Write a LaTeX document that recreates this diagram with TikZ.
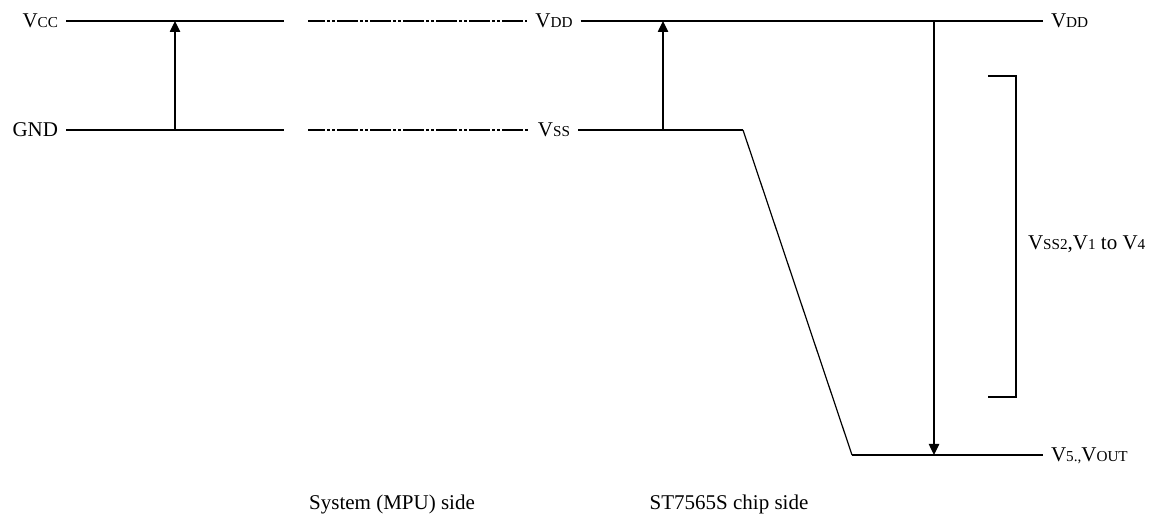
\documentclass[tikz,border=0pt]{standalone}
\usepackage{fontspec}
\setmainfont{Liberation Serif}
\usepackage{tikz}
\usetikzlibrary{arrows.meta, positioning}
\newcommand{\lo}[1]{{\fontsize{7.6}{8}\selectfont #1}}
\tikzset{
  lbl/.style={inner sep=0pt, outer sep=4pt, text height=7pt, text depth=0pt, font=\fontsize{10.5}{12}\selectfont},
  rail/.style={line width=0.9pt},
  dashrail/.style={line width=0.9pt, dash pattern=on 10.5pt off 1pt on 1.5pt off 1pt on 1.5pt off 1pt, dash phase=2pt},
  lift/.style={line width=0.6pt, -{Triangle[length=5.5pt, width=5.2pt]}},
}

\begin{document}
\begin{tikzpicture}[x=0.5pt, y=-0.5pt]
        \useasboundingbox (0,0) rectangle (1152,522);
        % Nodes
        \node[lbl, anchor=east] (vcc) at (66,21) {V\lo{CC}};
        \node[lbl, anchor=east] (gnd) at (66,130) {GND};
        \node[lbl] (vddmid) at (554,21) {V\lo{DD}};
        \node[lbl] (vssmid) at (554,130) {V\lo{SS}};
        \node[lbl, anchor=west] (vddend) at (1043,21) {V\lo{DD}};
        \node[lbl, anchor=west] (voutend) at (1043,455) {V\lo{5.,}V\lo{OUT}};
        \node[lbl, anchor=west] (vlcd) at (1020,243) {V\lo{SS2},V\lo{1} to V\lo{4}};
        \node[lbl] (mpu) at (392,503) {System (MPU) side};
        \node[lbl] (chip) at (729,503) {ST7565S chip side};

        \coordinate (vccR) at (284,21);
        \coordinate (gndR) at (284,130);
        \coordinate (vddL) at (308,21);
        \coordinate (vssL) at (308,130);
        \coordinate (knee) at (743,130);
        \coordinate (foot) at (852,455);
        \coordinate (mputop) at (175,21);
        \coordinate (mpubot) at (175,130);
        \coordinate (chiptop) at (663,21);
        \coordinate (chipbot) at (663,130);
        \coordinate (droptop) at (934,21);
        \coordinate (dropbot) at (934,455);
        \coordinate (brtop) at (988,76);
        \coordinate (brbot) at (988,397);

        % Rails
        \draw[rail] (vcc.east) -- (vccR);
        \draw[rail] (gnd.east) -- (gndR);
        \draw[dashrail] (vddL) -- (vddmid.west);
        \draw[dashrail] (vssL) -- (vssmid.west);
        \draw[rail] (vddmid.east) -- (vddend.west);
        \draw[rail] (vssmid.east) -- (knee);
        \draw[line width=0.6pt] (knee) -- (foot);
        \draw[rail] (foot) -- (voutend.west);

        % Potential arrows
        \draw[lift] (mpubot) -- (mputop);
        \draw[lift] (chipbot) -- (chiptop);
        \draw[lift] (droptop) -- (dropbot);

        % Bracket
        \draw[line width=0.7pt] (brtop) -- ++(28,0) |- (brbot);
    \end{tikzpicture}
\end{document}
